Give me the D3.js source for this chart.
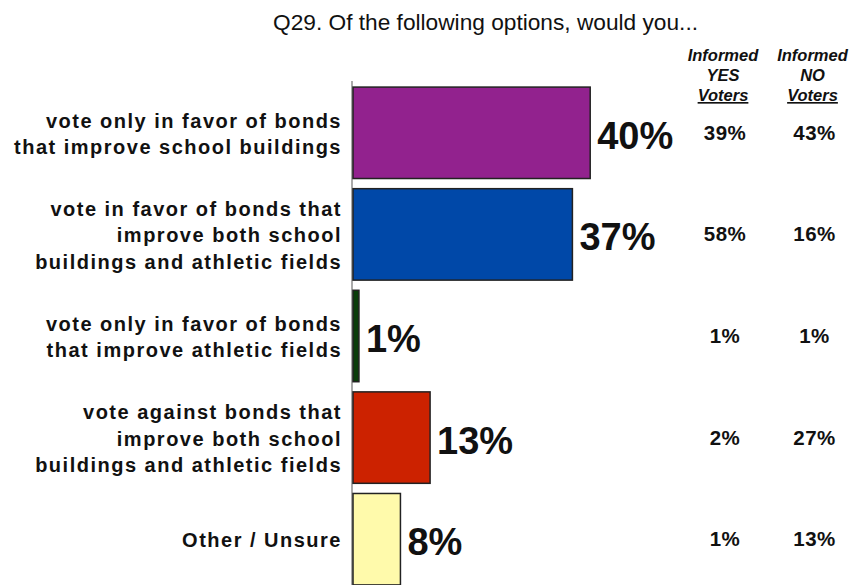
<!DOCTYPE html>
<html>
<head>
<meta charset="utf-8">
<script src="https://cdn.jsdelivr.net/npm/d3@7"></script>
<style>
  body { margin: 0; background: #fff; }
  svg { display: block; font-family: "Liberation Sans", Arial, sans-serif; }
</style>
</head>
<body>
<div id="chart"></div>
<script>
// data
const categories = [
    ['vote only in favor of bonds', 'that improve school buildings'],
    ['vote in favor of bonds that', 'improve both school', 'buildings and athletic fields'],
    ['vote only in favor of bonds', 'that improve athletic fields'],
    ['vote against bonds that', 'improve both school', 'buildings and athletic fields'],
    ['Other / Unsure']
];
const totals = [40, 37, 1, 13, 8];
const yesVoters = [39, 58, 1, 2, 1];
const noVoters = [43, 16, 1, 27, 13];
const colors = ['#92228e', '#0048a8', '#0a3d0a', '#cc2200', '#fffaab'];
const columnHeads = [['Informed', 'YES', 'Voters'], ['Informed', 'NO', 'Voters']];

const width = 853;
const height = 585;

const svg = d3.select('#chart')
    .append('svg')
    .attr('width', width)
    .attr('height', height);

// scales
const x = d3.scaleLinear().domain([0, 100]).range([353, 946]);
const y = d3.scaleBand()
    .domain(d3.range(categories.length))
    .range([82, 590])
    .paddingInner(0.1)
    .paddingOuter(0.05);

// title
svg.append('text')
    .attr('x', 273)
    .attr('y', 30)
    .attr('font-size', 22.7)
    .attr('fill', '#111')
    .text('Q29. Of the following options, would you...');

// column headers
const colX = [723, 812.5];
columnHeads.forEach((lines, c) => {
    svg.append('g').selectAll('text')
        .data(lines)
        .enter()
        .append('text')
        .attr('x', colX[c])
        .attr('y', (d, i) => 61 + i * 20)
        .attr('text-anchor', 'middle')
        .attr('font-size', 16.5)
        .attr('font-weight', 'bold')
        .attr('font-style', 'italic')
        .attr('fill', '#111')
        .style('text-decoration', (d, i) => i === 2 ? 'underline' : null)
        .text(d => d);
});

// axis line
svg.append('line')
    .attr('x1', x(0) - 1).attr('x2', x(0) - 1)
    .attr('y1', 81).attr('y2', height)
    .attr('stroke', '#aaa')
    .attr('stroke-width', 2);

// bars
svg.append('g')
    .selectAll('rect')
    .data(totals)
    .enter()
    .append('rect')
    .attr('x', x(0))
    .attr('y', (d, i) => y(i))
    .attr('width', d => x(d) - x(0))
    .attr('height', y.bandwidth())
    .attr('fill', (d, i) => colors[i])
    .attr('stroke', '#222')
    .attr('stroke-width', 1.5);

// value labels
svg.append('g')
    .selectAll('text')
    .data(totals)
    .enter()
    .append('text')
    .attr('x', d => x(d) + 7)
    .attr('y', (d, i) => y(i) + y.bandwidth() / 2 + 16)
    .attr('font-size', 38)
    .attr('font-weight', 'bold')
    .attr('fill', '#111')
    .text(d => d + '%');

// category labels
const lineGap = 26.5;
const cat = svg.append('g')
    .selectAll('text')
    .data(categories)
    .enter()
    .append('text')
    .attr('text-anchor', 'end')
    .attr('font-size', 20)
    .attr('font-weight', 'bold')
    .attr('letter-spacing', '1.5px')
    .attr('fill', '#111');

cat.each(function (lines, i) {
    const cy = y(i) + y.bandwidth() / 2;
    d3.select(this).selectAll('tspan')
        .data(lines)
        .enter()
        .append('tspan')
        .attr('x', 342)
        .attr('y', (d, j) => cy + (j - (lines.length - 1) / 2) * lineGap + 8)
        .text(d => d);
});

// subgroup columns
[yesVoters, noVoters].forEach((vals, c) => {
    svg.append('g')
        .selectAll('text')
        .data(vals)
        .enter()
        .append('text')
        .attr('x', colX[c] + 2)
        .attr('y', (d, i) => y(i) + y.bandwidth() / 2 + 7)
        .attr('text-anchor', 'middle')
        .attr('font-size', 20.5)
        .attr('font-weight', 'bold')
        .attr('letter-spacing', '0.5px')
        .attr('fill', '#111')
        .text(d => d + '%');
});
</script>
</body>
</html>
